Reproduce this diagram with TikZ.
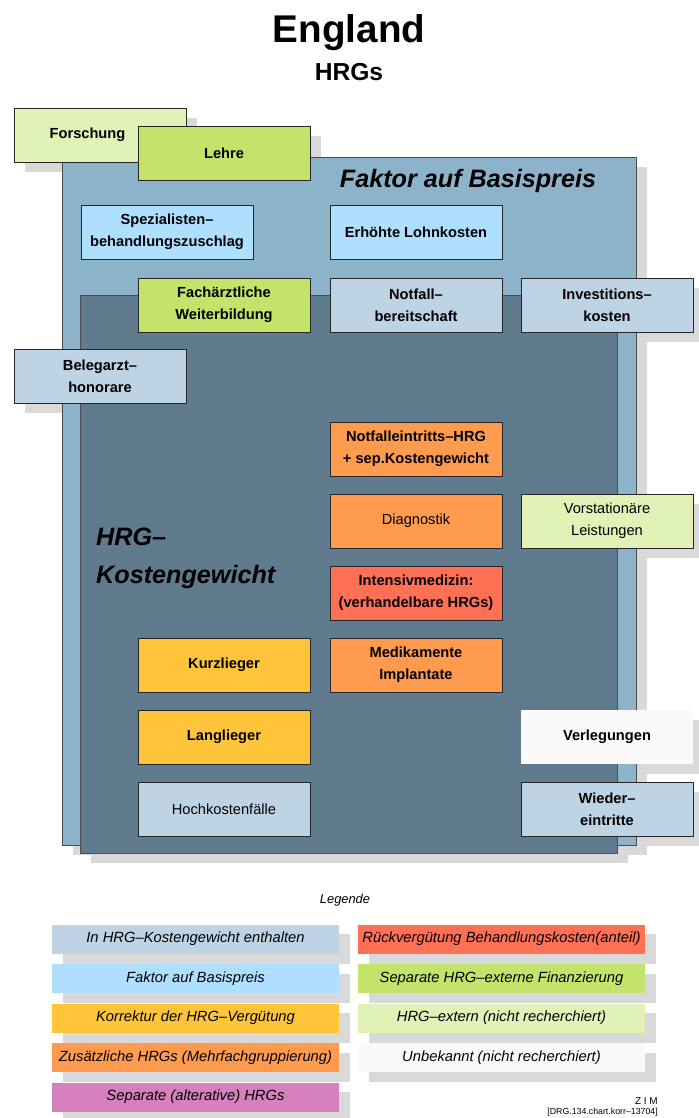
\documentclass[tikz,border=0pt]{standalone}
\usepackage{fontspec}
\setmainfont{Liberation Sans}
\usetikzlibrary{backgrounds}

\definecolor{outerblue}{HTML}{8DB3CB}
\definecolor{innerslate}{HTML}{5F7B8D}
\definecolor{steel}{HTML}{BED3E4}
\definecolor{sky}{HTML}{AEDFFF}
\definecolor{leaf}{HTML}{C3E36B}
\definecolor{paleleaf}{HTML}{E0F2B5}
\definecolor{orangebox}{HTML}{FF9B4F}
\definecolor{redbox}{HTML}{FF7054}
\definecolor{yellowbox}{HTML}{FFC53A}
\definecolor{pinkbox}{HTML}{D680BE}
\definecolor{blankbox}{HTML}{FAFAFA}
\definecolor{shadowgray}{HTML}{D9D9D9}

\begin{document}
\begin{tikzpicture}[x=0.3mm,y=-0.3mm,
  panel/.style={rectangle,draw=black!70,line width=0.5pt},
  item/.style={rectangle,draw=black!85,line width=0.6pt,minimum width=51.6mm,
    minimum height=16.2mm,align=center,font=\bfseries\fontsize{12.5}{19}\selectfont},
  plain/.style={font=\fontsize{12.5}{19}\selectfont},
  key/.style={rectangle,minimum width=86.1mm,minimum height=8.7mm,inner xsep=0pt,
    font=\itshape\fontsize{12.6}{15}\selectfont}]

  \useasboundingbox (0,0) rectangle (698,1118);

  % heading
  \node[font=\bfseries\fontsize{33}{36}\selectfont] (title) at (349,33) {England};
  \node[font=\bfseries\fontsize{21}{24}\selectfont] (subtitle) at (349,72) {HRGs};

  % containers
  \node[panel,fill=outerblue,minimum width=172.2mm,minimum height=206.4mm] (basis) at (349,501) {};
  \node[panel,fill=innerslate,minimum width=161.1mm,minimum height=167.4mm] (gewicht) at (348.5,574) {};
  \node[font=\bfseries\itshape\fontsize{21.5}{24}\selectfont] (basislabel) at (468,181) {Faktor auf Basispreis};
  \node[font=\bfseries\itshape\fontsize{21.5}{32.5}\selectfont,align=left,anchor=west,inner sep=0pt]
    (gewichtlabel) at (96,558) {HRG–\\Kostengewicht};

  % boxes
  \node[item,fill=paleleaf] (forschung) at (100,135) {Forschung\hspace*{7.5mm}};
  \node[item,fill=leaf] (lehre) at (224,153) {Lehre};
  \node[item,fill=sky] (spezial) at (167,232) {Spezialisten–\\behandlungszuschlag};
  \node[item,fill=sky] (lohn) at (416,232) {Erhöhte Lohnkosten};
  \node[item,fill=leaf] (weiterb) at (224,305) {Fachärztliche\\Weiterbildung};
  \node[item,fill=steel] (notfall) at (416,305) {Notfall–\\bereitschaft};
  \node[item,fill=steel] (invest) at (607,305) {Investitions–\\kosten};
  \node[item,fill=steel] (beleg) at (100,376) {Belegarzt–\\honorare};
  \node[item,fill=orangebox] (notfallhrg) at (416,449) {Notfalleintritts–HRG\\+ sep.Kostengewicht};
  \node[item,plain,fill=orangebox] (diag) at (416,521) {Diagnostik};
  \node[item,plain,fill=paleleaf] (vorstat) at (607,521) {Vorstationäre\\Leistungen};
  \node[item,fill=redbox] (intensiv) at (416,593) {Intensivmedizin:\\(verhandelbare HRGs)};
  \node[item,fill=yellowbox] (kurz) at (224,665) {Kurzlieger};
  \node[item,fill=orangebox] (medi) at (416,665) {Medikamente\\Implantate};
  \node[item,fill=yellowbox] (lang) at (224,737) {Langlieger};
  \node[item,fill=blankbox,draw=none] (verleg) at (607,737) {Verlegungen};
  \node[item,plain,fill=steel] (hochk) at (224,809) {Hochkostenfälle};
  \node[item,fill=steel] (wieder) at (607,809) {Wieder–\\eintritte};

  % legend
  \node[font=\itshape\fontsize{11}{13}\selectfont] (legende) at (345,900) {Legende};
  \node[key,fill=steel] (k1) at (195.5,939) {In HRG–Kostengewicht enthalten};
  \node[key,fill=sky] (k2) at (195.5,978.5) {Faktor auf Basispreis};
  \node[key,fill=yellowbox] (k3) at (195.5,1018) {Korrektur der HRG–Vergütung};
  \node[key,fill=orangebox] (k4) at (195.5,1057.5) {Zusätzliche HRGs (Mehrfachgruppierung)};
  \node[key,fill=pinkbox] (k5) at (195.5,1097) {Separate (alterative) HRGs};
  \node[key,fill=redbox] (k6) at (501.5,939) {Rückvergütung Behandlungskosten(anteil)};
  \node[key,fill=leaf] (k7) at (501.5,978.5) {Separate HRG–externe Finanzierung};
  \node[key,fill=paleleaf] (k8) at (501.5,1018) {HRG–extern (nicht recherchiert)};
  \node[key,fill=blankbox] (k9) at (501.5,1057.5) {Unbekannt (nicht recherchiert)};

  \node[anchor=east,inner sep=0pt,font=\fontsize{8.5}{9}\selectfont] (zim) at (658,1101) {Z I M};
  \node[anchor=east,inner sep=0pt,font=\fontsize{7.5}{8}\selectfont] (chartref) at (658,1112) {[DRG.134.chart.korr–13704]};

  % shadows behind everything
  \begin{pgfonlayer}{background}
    \foreach \n in {basis,gewicht,forschung,lehre,spezial,lohn,weiterb,notfall,invest,beleg,
        notfallhrg,diag,vorstat,intensiv,kurz,medi,lang,verleg,hochk,wieder,
        k1,k2,k3,k4,k5,k6,k7,k8,k9}
      \fill[shadowgray] ([shift={(11,10)}]\n.north west) rectangle ([shift={(11,10)}]\n.south east);
  \end{pgfonlayer}
\end{tikzpicture}
\end{document}
